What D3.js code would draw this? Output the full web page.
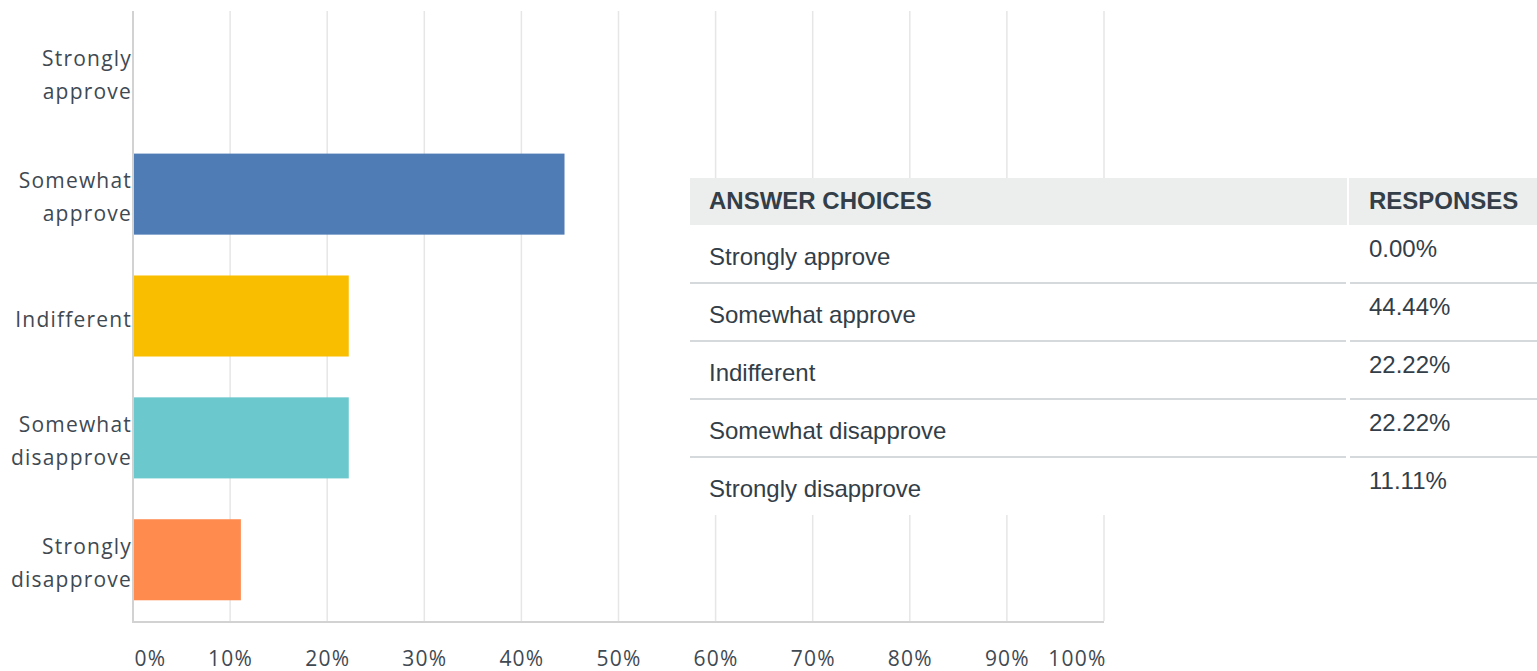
<!DOCTYPE html>
<html>
<head>
<meta charset="utf-8">
<script src="https://cdn.jsdelivr.net/npm/d3@7"></script>
<style>
  html, body { margin: 0; padding: 0; background: #fff; overflow: hidden; }
  svg { display: block; }
</style>
</head>
<body>
<svg id="chart" width="1537" height="671"></svg>
<script>
// ---- data ----
const categories = ["Strongly approve", "Somewhat approve", "Indifferent", "Somewhat disapprove", "Strongly disapprove"];
const categoryLines = [["Strongly", "approve"], ["Somewhat", "approve"], ["Indifferent"], ["Somewhat", "disapprove"], ["Strongly", "disapprove"]];
const values = [0.00, 44.44, 22.22, 22.22, 11.11];
const barColors = ["#507cb6", "#507cb6", "#f9be00", "#6bc8cd", "#ff8b4f"];
const tickValues = [0, 10, 20, 30, 40, 50, 60, 70, 80, 90, 100];
const tableHeaders = ["ANSWER CHOICES", "RESPONSES"];

// ---- layout ----
const svg = d3.select("#chart");
const plot = { left: 133, right: 1104, top: 11, bottom: 621 };
const labelFont = "'Open Sans', sans-serif";
const textColor = "#3f4952";

const x = d3.scaleLinear().domain([0, 100]).range([plot.left, plot.right]);
const y = d3.scaleBand().domain(categories).range([plot.top, plot.bottom])
  .paddingInner(0.335).paddingOuter(0.17);

// gridlines
svg.append("g").selectAll("line").data(tickValues.filter(d => d > 0)).join("line")
  .attr("x1", d => x(d)).attr("x2", d => x(d))
  .attr("y1", plot.top).attr("y2", plot.bottom)
  .attr("stroke", "#e6e6e6").attr("stroke-width", 1.5);

// bars
svg.append("g").selectAll("rect").data(categories).join("rect")
  .attr("x", x(0))
  .attr("y", d => y(d))
  .attr("width", (d, i) => x(values[i]) - x(0))
  .attr("height", y.bandwidth())
  .attr("fill", (d, i) => barColors[i]);

// axes lines
svg.append("line").attr("x1", plot.left).attr("x2", plot.left)
  .attr("y1", plot.top).attr("y2", plot.bottom + 1)
  .attr("stroke", "#d2d2d2").attr("stroke-width", 2);
svg.append("line").attr("x1", plot.left - 1).attr("x2", plot.right)
  .attr("y1", plot.bottom + 1).attr("y2", plot.bottom + 1)
  .attr("stroke", "#d2d2d2").attr("stroke-width", 2);

// x tick labels (via d3 axis, then restyled)
const xAxis = d3.axisBottom(x).tickValues(tickValues).tickFormat(d => d + "%").tickSize(0).tickPadding(0);
const gx = svg.append("g").attr("transform", `translate(0, ${plot.bottom + 45})`).call(xAxis);
gx.select(".domain").remove();
gx.selectAll("text")
  .attr("y", 0).attr("dy", 0)
  .attr("font-family", labelFont).attr("font-size", 21)
  .attr("letter-spacing", "1.2px")
  .attr("fill", textColor)
  .attr("text-anchor", (d, i) => i === 0 ? "start" : (i === tickValues.length - 1 ? "end" : "middle"))
  .attr("dx", (d, i) => i === 0 ? 1 : (i === tickValues.length - 1 ? 2 : 0));

// y category labels
const gy = svg.append("g");
categories.forEach((c, i) => {
  const lines = categoryLines[i];
  const cy = y(c) + y.bandwidth() / 2;
  const n = lines.length;
  const t = gy.append("text")
    .attr("text-anchor", "end")
    .attr("font-family", labelFont).attr("font-size", 21)
    .attr("letter-spacing", "1.2px")
    .attr("fill", textColor);
  lines.forEach((ln, k) => {
    t.append("tspan").attr("x", 132)
      .attr("y", cy + 10.5 + (k - (n - 1) / 2) * 33)
      .text(ln);
  });
});

// ---- table ----
const tbl = { left: 690, right: 1537, top: 178, headH: 47, rowH: 58, col: 1348 };
const tableFont = "'Liberation Sans', Arial, sans-serif";
const tg = svg.append("g");
const tableBottom = tbl.top + tbl.headH + tbl.rowH * categories.length;
tg.append("rect").attr("x", tbl.left).attr("y", tbl.top)
  .attr("width", tbl.right - tbl.left).attr("height", tableBottom - tbl.top)
  .attr("fill", "#fff");
tg.append("rect").attr("x", tbl.left).attr("y", tbl.top)
  .attr("width", tbl.right - tbl.left).attr("height", tbl.headH)
  .attr("fill", "#eceeee");
tg.append("line").attr("x1", tbl.col).attr("x2", tbl.col)
  .attr("y1", tbl.top).attr("y2", tbl.top + tbl.headH)
  .attr("stroke", "#fff").attr("stroke-width", 2);

tg.selectAll("text.head").data(tableHeaders).join("text").attr("class", "head")
  .attr("x", (d, i) => i === 0 ? 709 : 1369)
  .attr("y", tbl.top + 31)
  .attr("font-family", tableFont).attr("font-size", 24).attr("font-weight", "bold")
  .attr("fill", "#333e48")
  .text(d => d);

categories.forEach((c, i) => {
  const rt = tbl.top + tbl.headH + i * tbl.rowH;
  tg.append("text").attr("x", 709).attr("y", rt + 40)
    .attr("font-family", tableFont).attr("font-size", 24).attr("fill", "#333e48")
    .text(c);
  tg.append("text").attr("x", 1369).attr("y", rt + 32)
    .attr("font-family", tableFont).attr("font-size", 24).attr("fill", "#333e48")
    .text(values[i].toFixed(2) + "%");
  if (i < categories.length - 1) {
    const ly = rt + tbl.rowH;
    tg.append("line").attr("x1", tbl.left).attr("x2", tbl.col - 2)
      .attr("y1", ly).attr("y2", ly).attr("stroke", "#d6d9db").attr("stroke-width", 2);
    tg.append("line").attr("x1", tbl.col + 2).attr("x2", tbl.right)
      .attr("y1", ly).attr("y2", ly).attr("stroke", "#d6d9db").attr("stroke-width", 2);
  }
});
</script>
</body>
</html>
